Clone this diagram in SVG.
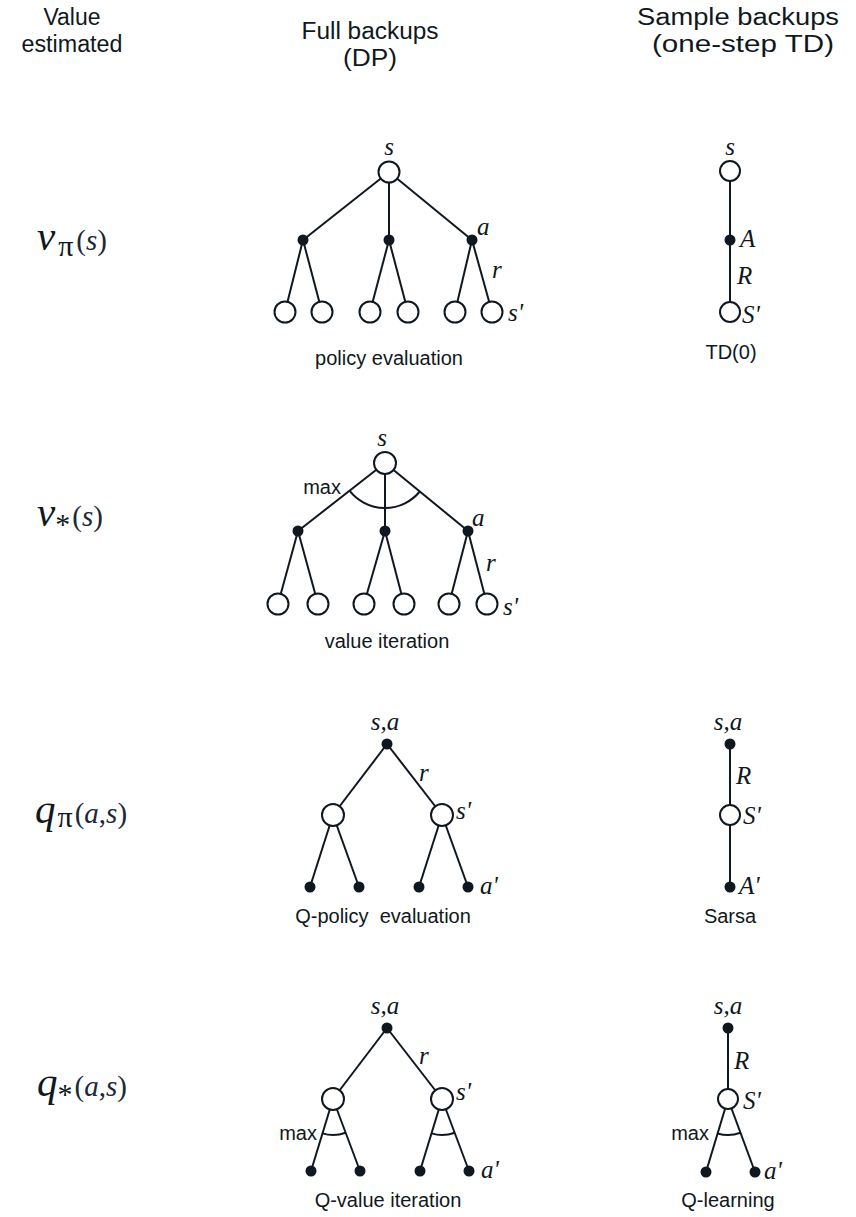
<svg xmlns="http://www.w3.org/2000/svg" width="856" height="1217" viewBox="0 0 856 1217">
<defs>
<style>
.bg{fill:#ffffff}
.ln{stroke:#0f1820;stroke-width:2;fill:none}
.st{fill:#ffffff;stroke:#0f1820;stroke-width:2}
.ac{fill:#0f1820}
.it{font-family:"Liberation Serif",serif;font-style:italic;font-size:25px;fill:#0f1820}
.sans{font-family:"Liberation Sans",Arial,sans-serif;font-size:20px;fill:#0f1820;text-anchor:middle}
.hd{font-family:"Liberation Sans",Arial,sans-serif;font-size:23px;fill:#0f1820;text-anchor:middle}
.mx{font-family:"Liberation Sans",Arial,sans-serif;font-size:20px;fill:#0f1820;text-anchor:end}
.big{font-family:"Liberation Serif",serif;font-style:italic;font-size:41px;fill:#0f1820}
.sub{font-family:"Liberation Serif",serif;font-size:30px;fill:#0f1820}
.arg{font-family:"Liberation Serif",serif;font-size:29px;fill:#1a2838}
</style>
</defs>
<rect class="bg" x="0" y="0" width="856" height="1217"/>

<g id="headers">
<text class="hd" x="72" y="25" textLength="57" lengthAdjust="spacingAndGlyphs">Value</text>
<text class="hd" x="72" y="52" textLength="101" lengthAdjust="spacingAndGlyphs">estimated</text>
<text class="hd" x="370" y="39" textLength="137" lengthAdjust="spacingAndGlyphs">Full backups</text>
<text class="hd" x="370" y="66" textLength="54" lengthAdjust="spacingAndGlyphs">(DP)</text>
<text class="hd" x="738" y="25" textLength="202" lengthAdjust="spacingAndGlyphs">Sample backups</text>
<text class="hd" x="743" y="52" textLength="182" lengthAdjust="spacingAndGlyphs">(one-step TD)</text>
</g>

<g id="row-labels">
<text x="37" y="250"><tspan class="big">v</tspan><tspan class="sub" dx="3" dy="6">π</tspan><tspan class="arg" dx="3" dy="-6">(<tspan font-style="italic">s</tspan>)</tspan></text>
<text x="37" y="526"><tspan class="big">v</tspan><tspan class="sub" dy="8">*</tspan><tspan class="arg" dx="2" dy="-8">(<tspan font-style="italic">s</tspan>)</tspan></text>
<text x="35" y="823"><tspan class="big">q</tspan><tspan class="sub" dx="2" dy="4">π</tspan><tspan class="arg" dx="2" dy="-4">(<tspan font-style="italic">a</tspan>,<tspan font-style="italic">s</tspan>)</tspan></text>
<text x="37" y="1096"><tspan class="big">q</tspan><tspan class="sub" dy="8">*</tspan><tspan class="arg" dx="2" dy="-8">(<tspan font-style="italic">a</tspan>,<tspan font-style="italic">s</tspan>)</tspan></text>
</g>

<g id="connectors">
<!-- row 1 DP -->
<line class="ln" x1="389" y1="172" x2="303" y2="240"/>
<line class="ln" x1="389" y1="172" x2="389" y2="240"/>
<line class="ln" x1="389" y1="172" x2="472" y2="240"/>
<line class="ln" x1="303" y1="240" x2="285" y2="312"/>
<line class="ln" x1="303" y1="240" x2="322" y2="312"/>
<line class="ln" x1="389" y1="240" x2="370" y2="312"/>
<line class="ln" x1="389" y1="240" x2="408" y2="312"/>
<line class="ln" x1="472" y1="240" x2="455" y2="312"/>
<line class="ln" x1="472" y1="240" x2="492" y2="312"/>
<!-- row 1 TD -->
<line class="ln" x1="730" y1="171" x2="730" y2="312"/>
<!-- row 2 DP -->
<line class="ln" x1="385" y1="463" x2="298" y2="531"/>
<line class="ln" x1="385" y1="463" x2="385" y2="531"/>
<line class="ln" x1="385" y1="463" x2="468" y2="531"/>
<line class="ln" x1="298" y1="531" x2="278" y2="604"/>
<line class="ln" x1="298" y1="531" x2="318" y2="604"/>
<line class="ln" x1="385" y1="531" x2="364" y2="604"/>
<line class="ln" x1="385" y1="531" x2="404" y2="604"/>
<line class="ln" x1="468" y1="531" x2="449" y2="604"/>
<line class="ln" x1="468" y1="531" x2="487" y2="604"/>
<path class="ln" d="M349.5,490.7 A45,45 0 0,0 419.8,491.5"/>
<!-- row 3 DP -->
<line class="ln" x1="387" y1="744" x2="333" y2="815"/>
<line class="ln" x1="387" y1="744" x2="442" y2="815"/>
<line class="ln" x1="333" y1="815" x2="310" y2="887"/>
<line class="ln" x1="333" y1="815" x2="359" y2="887"/>
<line class="ln" x1="442" y1="815" x2="419" y2="887"/>
<line class="ln" x1="442" y1="815" x2="468" y2="887"/>
<!-- row 3 TD -->
<line class="ln" x1="730" y1="744" x2="730" y2="887"/>
<!-- row 4 DP -->
<line class="ln" x1="387" y1="1028" x2="333" y2="1099"/>
<line class="ln" x1="387" y1="1028" x2="442" y2="1099"/>
<line class="ln" x1="333" y1="1099" x2="311" y2="1171"/>
<line class="ln" x1="333" y1="1099" x2="360" y2="1171"/>
<line class="ln" x1="442" y1="1099" x2="420" y2="1171"/>
<line class="ln" x1="442" y1="1099" x2="469" y2="1171"/>
<path class="ln" d="M322.5,1133.4 A36,36 0 0,0 345.6,1132.7"/>
<path class="ln" d="M431.5,1133.4 A36,36 0 0,0 454.6,1132.7"/>
<!-- row 4 TD -->
<line class="ln" x1="728" y1="1028" x2="728" y2="1099"/>
<line class="ln" x1="728" y1="1099" x2="706" y2="1172"/>
<line class="ln" x1="728" y1="1099" x2="755" y2="1172"/>
<path class="ln" d="M717.6,1133.5 A36,36 0 0,0 740.5,1132.8"/>
</g>

<g id="policy-evaluation">
<circle class="st" cx="389" cy="172" r="10.5"/>
<circle class="ac" cx="303" cy="240" r="5.5"/>
<circle class="ac" cx="389" cy="240" r="5.5"/>
<circle class="ac" cx="472" cy="240" r="5.5"/>
<circle class="st" cx="285" cy="312" r="10.5"/>
<circle class="st" cx="322" cy="312" r="10.5"/>
<circle class="st" cx="370" cy="312" r="10.5"/>
<circle class="st" cx="408" cy="312" r="10.5"/>
<circle class="st" cx="455" cy="312" r="10.5"/>
<circle class="st" cx="492" cy="312" r="10.5"/>
<text class="it" x="389" y="155" text-anchor="middle">s</text>
<text class="it" x="477" y="235">a</text>
<text class="it" x="492" y="278">r</text>
<text class="it" x="508" y="321">s'</text>
<text class="sans" x="389" y="365">policy evaluation</text>
</g>

<g id="td0">
<circle class="st" cx="730" cy="171" r="10"/>
<circle class="ac" cx="730" cy="240" r="5.5"/>
<circle class="st" cx="730" cy="312" r="10"/>
<text class="it" x="730" y="155" text-anchor="middle">s</text>
<text class="it" x="740" y="247">A</text>
<text class="it" x="737" y="284">R</text>
<text class="it" x="742" y="323">S'</text>
<text class="sans" x="731" y="359">TD(0)</text>
</g>

<g id="value-iteration">
<circle class="st" cx="385" cy="463" r="11"/>
<circle class="ac" cx="298" cy="531" r="5.5"/>
<circle class="ac" cx="385" cy="531" r="5.5"/>
<circle class="ac" cx="468" cy="531" r="5.5"/>
<circle class="st" cx="278" cy="604" r="10.5"/>
<circle class="st" cx="318" cy="604" r="10.5"/>
<circle class="st" cx="364" cy="604" r="10.5"/>
<circle class="st" cx="404" cy="604" r="10.5"/>
<circle class="st" cx="449" cy="604" r="10.5"/>
<circle class="st" cx="487" cy="604" r="10.5"/>
<text class="it" x="382" y="446" text-anchor="middle">s</text>
<text class="mx" x="341" y="494">max</text>
<text class="it" x="472" y="526">a</text>
<text class="it" x="486" y="571">r</text>
<text class="it" x="503" y="615">s'</text>
<text class="sans" x="387" y="648">value iteration</text>
</g>

<g id="q-policy-evaluation">
<circle class="ac" cx="387" cy="744" r="5.5"/>
<circle class="st" cx="333" cy="815" r="11"/>
<circle class="st" cx="442" cy="815" r="11"/>
<circle class="ac" cx="310" cy="887" r="5.5"/>
<circle class="ac" cx="359" cy="887" r="5.5"/>
<circle class="ac" cx="419" cy="887" r="5.5"/>
<circle class="ac" cx="468" cy="887" r="5.5"/>
<text class="it" x="385" y="730" text-anchor="middle">s,a</text>
<text class="it" x="419" y="781">r</text>
<text class="it" x="456" y="819">s'</text>
<text class="it" x="480" y="894">a'</text>
<text class="sans" x="383" y="923" xml:space="preserve">Q-policy  evaluation</text>
</g>

<g id="sarsa">
<circle class="ac" cx="730" cy="744" r="5.5"/>
<circle class="st" cx="730" cy="815" r="10"/>
<circle class="ac" cx="730" cy="887" r="5.5"/>
<text class="it" x="728" y="730" text-anchor="middle">s,a</text>
<text class="it" x="736" y="784">R</text>
<text class="it" x="743" y="824">S'</text>
<text class="it" x="739" y="894">A'</text>
<text class="sans" x="730" y="923">Sarsa</text>
</g>

<g id="q-value-iteration">
<circle class="ac" cx="387" cy="1028" r="5.5"/>
<circle class="st" cx="333" cy="1099" r="11"/>
<circle class="st" cx="442" cy="1099" r="11"/>
<circle class="ac" cx="311" cy="1171" r="5.5"/>
<circle class="ac" cx="360" cy="1171" r="5.5"/>
<circle class="ac" cx="420" cy="1171" r="5.5"/>
<circle class="ac" cx="469" cy="1171" r="5.5"/>
<text class="it" x="385" y="1014" text-anchor="middle">s,a</text>
<text class="mx" x="317" y="1140">max</text>
<text class="it" x="419" y="1064">r</text>
<text class="it" x="456" y="1100">s'</text>
<text class="it" x="481" y="1178">a'</text>
<text class="sans" x="388" y="1207">Q-value iteration</text>
</g>

<g id="q-learning">
<circle class="ac" cx="728" cy="1028" r="5.5"/>
<circle class="st" cx="728" cy="1099" r="10"/>
<circle class="ac" cx="706" cy="1172" r="5.5"/>
<circle class="ac" cx="755" cy="1172" r="5.5"/>
<text class="it" x="728" y="1014" text-anchor="middle">s,a</text>
<text class="mx" x="709" y="1140">max</text>
<text class="it" x="734" y="1069">R</text>
<text class="it" x="743" y="1109">S'</text>
<text class="it" x="764" y="1179">a'</text>
<text class="sans" x="728" y="1207">Q-learning</text>
</g>
</svg>
